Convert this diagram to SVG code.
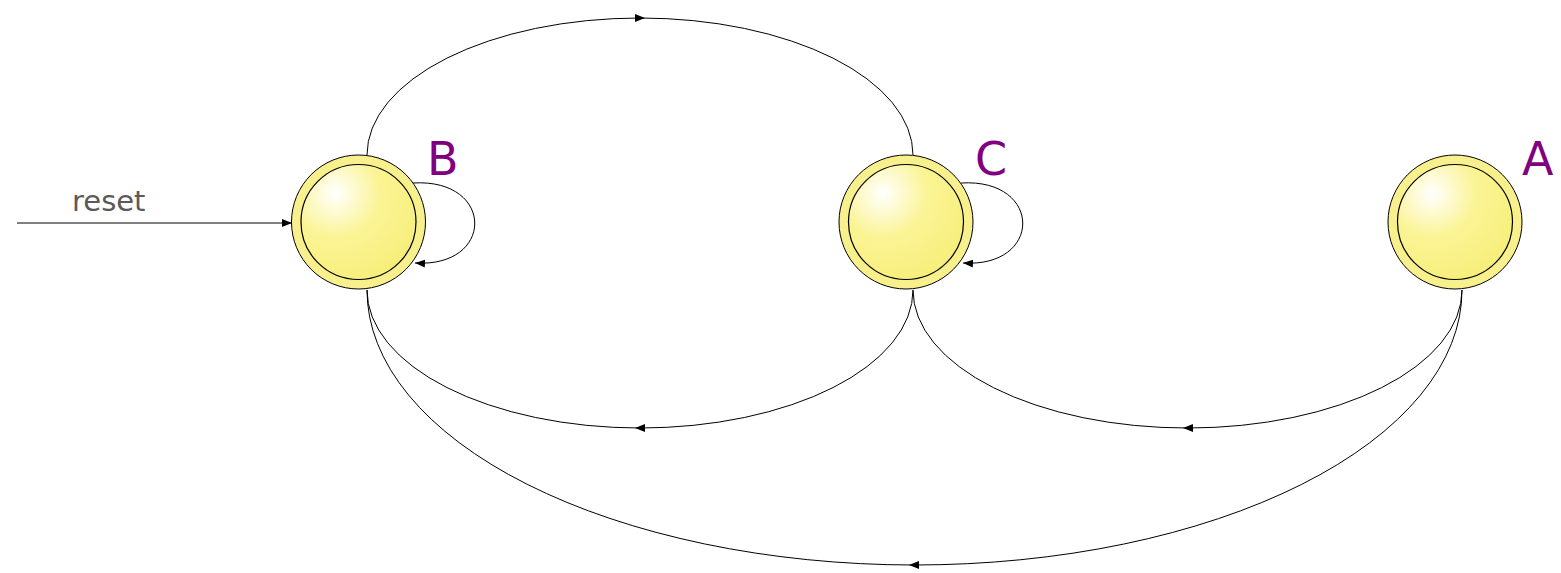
<svg xmlns="http://www.w3.org/2000/svg" width="1561" height="573" viewBox="0 0 1561 573">
<style>
.edge{fill:none;stroke:#000;stroke-width:1}
.outer{fill:#f8f08c;stroke:#000;stroke-width:1}
.inner{fill:url(#g);stroke:#000;stroke-width:1.2}
.lbl{font-family:"DejaVu Sans",sans-serif;font-size:46px;fill:#800080}
.rs{font-family:"DejaVu Sans",sans-serif;font-size:29px;fill:#5a5a5a}
</style>
<defs>
<radialGradient id="g" cx="0.3" cy="0.25" r="0.85">
<stop offset="0" stop-color="#ffffff"/>
<stop offset="0.45" stop-color="#fbf495"/>
<stop offset="1" stop-color="#f6ee78"/>
</radialGradient>
<marker id="ah" viewBox="0 0 10 10" refX="5" refY="5" markerWidth="10" markerHeight="10" markerUnits="userSpaceOnUse" orient="auto">
<path d="M0,1 L10,5 L0,9 Z" fill="#000"/>
</marker>
<marker id="ae" viewBox="0 0 10 10" refX="10" refY="5" markerWidth="10" markerHeight="10" markerUnits="userSpaceOnUse" orient="auto">
<path d="M0,1 L10,5 L0,9 Z" fill="#000"/>
</marker>
</defs>
<g id="connectors">
<path class="edge" d="M17,223 L292,223" marker-end="url(#ae)"/>
<path class="edge" d="M367,155 A273,137 0 0 1 640,18 A273,137 0 0 1 913,155" marker-mid="url(#ah)"/>
<path class="edge" d="M913,290 A273,138 0 0 1 640,428 A273,138 0 0 1 367,290" marker-mid="url(#ah)"/>
<path class="edge" d="M1462,290 A274,138 0 0 1 1188,428 A274,138 0 0 1 913,290" marker-mid="url(#ah)"/>
<path class="edge" d="M1462,290 A548,275 0 0 1 914,565 A548,275 0 0 1 367,290" marker-mid="url(#ah)"/>
<path class="edge" d="M413,183 C495,178 495,268 415,263" marker-end="url(#ae)"/>
<path class="edge" d="M961,183 C1043,178 1043,268 963,263" marker-end="url(#ae)"/>
</g>
<g id="B">
<circle class="outer" cx="358.5" cy="222" r="67"/>
<circle class="inner" cx="358.5" cy="222" r="57.5"/>
<text class="lbl" x="427" y="175">B</text>
</g>
<g id="C">
<circle class="outer" cx="906" cy="222" r="67"/>
<circle class="inner" cx="906" cy="222" r="57.5"/>
<text class="lbl" x="975" y="175">C</text>
</g>
<g id="A">
<circle class="outer" cx="1455" cy="222" r="67"/>
<circle class="inner" cx="1455" cy="222" r="57.5"/>
<text class="lbl" x="1522" y="175">A</text>
</g>
<text class="rs" x="72" y="211">reset</text>
</svg>
